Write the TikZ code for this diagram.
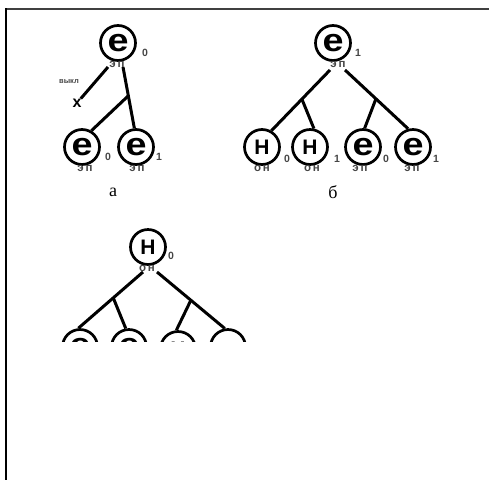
\documentclass[tikz,border=0pt]{standalone}
\usepackage{fontspec}
\setmainfont{Liberation Serif}
\newfontfamily\lsans{Liberation Sans}
\usetikzlibrary{calc}
\definecolor{lblgray}{HTML}{454545}
\newcommand{\wideE}{\scalebox{1.18}[1]{е}}
\tikzset{
  vert/.style={circle, draw=black, line width=2.7pt, minimum size=35pt, inner sep=0pt,
    font=\lsans\bfseries\fontsize{21}{21}\selectfont},
  vertE/.style={vert, font=\lsans\bfseries\fontsize{32}{32}\selectfont},
  lbl/.style={inner sep=0pt, text=lblgray, font=\lsans\bfseries\fontsize{11.5}{11.5}\selectfont},
  subtxt/.style={inner sep=0pt, text=lblgray, font=\lsans\bfseries\fontsize{10.5}{10.5}\selectfont},
  con/.style={line width=3pt, black},
  captxt/.style={inner sep=0pt, font=\fontsize{18}{18}\selectfont},
}
\begin{document}
\begin{tikzpicture}[x=1pt,y=-1pt]
\useasboundingbox (0,0) rectangle (489,480);
% frame
\draw[line width=2pt, black!75] (6,9) -- (489,9);
\draw[line width=2.4pt, black] (6,8) -- (6,480);

% ---------- tree a ----------
\node[vertE] (a0) at (118,43) {\wideE};
\node[lbl] (a0l) at (117,64) {э\,п};
\node[subtxt] (a0s) at (145,53) {0};
\node[vertE] (a1) at (82,147) {\wideE};
\node[lbl] (a1l) at (85,168) {э\,п};
\node[subtxt] (a1s) at (108,157) {0};
\node[vertE] (a2) at (136,147) {\wideE};
\node[lbl] (a2l) at (137,168) {э\,п};
\node[subtxt] (a2s) at (159,157) {1};
\node[inner sep=0pt, font=\lsans\bfseries\fontsize{16}{16}\selectfont] (ax) at (77,103) {x};
\node[lbl, font=\lsans\bfseries\fontsize{7.5}{7.5}\selectfont] (axl) at (69,82) {выкл};
\coordinate (a0p) at (108,67);
\coordinate (a0q) at (123,67);
\draw[con] (a0p) -- (ax);
\draw[con] (a0q) -- (a2.95);
\coordinate (ab) at ($(a0q)!0.47!(a2.95)$);
\draw[con] (ab) -- (a1.60);
\node[captxt] (capa) at (113,192) {а};

% ---------- tree b ----------
\node[vertE] (b0) at (333,43) {\wideE};
\node[lbl] (b0l) at (338,64) {э\,п};
\node[subtxt] (b0s) at (358,53) {1};
\node[vert] (b1) at (262,147) {Н};
\node[lbl] (b1l) at (262,168) {о\,н};
\node[subtxt] (b1s) at (287,159) {0};
\node[vert] (b2) at (310,147) {Н};
\node[lbl] (b2l) at (312,168) {о\,н};
\node[subtxt] (b2s) at (337,159) {1};
\node[vertE] (b3) at (363,147) {\wideE};
\node[lbl] (b3l) at (360,168) {э\,п};
\node[subtxt] (b3s) at (386,159) {0};
\node[vertE] (b4) at (413,147) {\wideE};
\node[lbl] (b4l) at (412,168) {э\,п};
\node[subtxt] (b4s) at (436,159) {1};
\coordinate (b0p) at (330,70);
\coordinate (b0q) at (345,70);
\draw[con] (b0p) -- (b1.60);
\draw[con] (b0q) -- (b4.105);
\coordinate (bl) at ($(b0p)!0.48!(b1.60)$);
\coordinate (br) at ($(b0q)!0.49!(b4.105)$);
\draw[con] (bl) -- (b2.78);
\draw[con] (br) -- (b3.85);
\node[captxt] (capb) at (333,192) {б};

% ---------- tree c ----------
\node[vert] (c0) at (148,247) {Н};
\node[lbl] (c0l) at (147,268) {о\,н};
\node[subtxt] (c0s) at (171,256) {0};
\begin{scope}
\clip (0,0) rectangle (489,341);
\node[vertE] (c1) at (80,347) {\wideE};
\node[vertE] (c2) at (129,347) {\wideE};
\node[vert] (c3) at (178,349) {Н};
\node[vert] (c4) at (228,347) {};
\end{scope}
\coordinate (c0p) at (143,272);
\coordinate (c0q) at (157,272);
\draw[con] (c0p) -- (c1.95);
\draw[con] (c0q) -- (c4.100);
\coordinate (cl) at ($(c0p)!0.46!(c1.95)$);
\coordinate (cr) at ($(c0q)!0.5!(c4.100)$);
\draw[con] (cl) -- (c2.100);
\draw[con] (cr) -- (c3.95);
\end{tikzpicture}
\end{document}
